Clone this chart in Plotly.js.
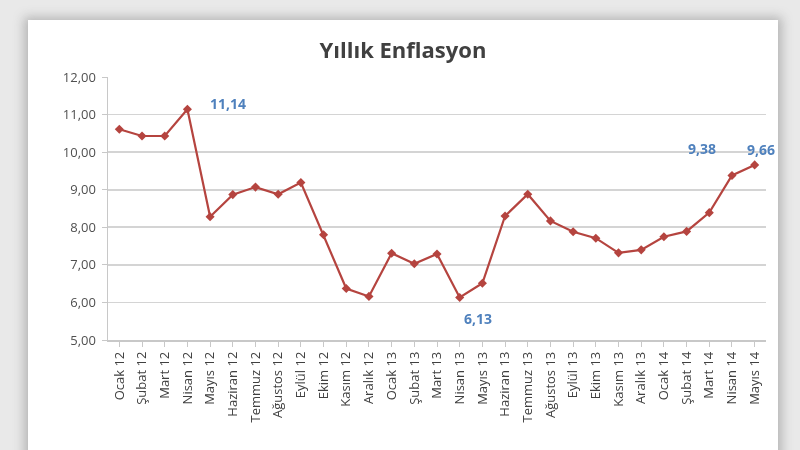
<!DOCTYPE html>
<html>
<head>
<meta charset="utf-8">
<script src="https://cdn.plot.ly/plotly-3.0.1.min.js"></script>
<style>
  html, body { margin: 0; padding: 0; width: 800px; height: 450px; overflow: hidden; background: #e9e9e9; }
  #card { position: absolute; left: 28px; top: 21px; width: 750px; height: 440px; background: #ffffff;
          box-shadow: 0 0 10px 4px rgba(120,120,120,0.45); }
  #chart { position: absolute; left: 0; top: -1px; width: 750px; height: 430px; filter: blur(0.6px); }
</style>
</head>
<body>
<div id="card"><div id="chart"></div></div>
<script>
const categories = [
  "Ocak 12","Şubat 12","Mart 12","Nisan 12","Mayıs 12","Haziran 12","Temmuz 12","Ağustos 12","Eylül 12","Ekim 12","Kasım 12","Aralık 12",
  "Ocak 13","Şubat 13","Mart 13","Nisan 13","Mayıs 13","Haziran 13","Temmuz 13","Ağustos 13","Eylül 13","Ekim 13","Kasım 13","Aralık 13",
  "Ocak 14","Şubat 14","Mart 14","Nisan 14","Mayıs 14"
];
const inflation = [
  10.61, 10.43, 10.43, 11.14, 8.28, 8.87, 9.07, 8.88, 9.19, 7.80, 6.37, 6.16,
  7.31, 7.03, 7.29, 6.13, 6.51, 8.30, 8.88, 8.17, 7.88, 7.71, 7.32, 7.40,
  7.75, 7.89, 8.39, 9.38, 9.66
];
const labelled = [
  {cat: "Nisan 12", val: 11.14, text: "11,14", dx: 41, dy: 6},
  {cat: "Nisan 13", val: 6.13, text: "6,13", dx: 18, dy: -21},
  {cat: "Nisan 14", val: 9.38, text: "9,38", dx: -30, dy: 27},
  {cat: "Mayıs 14", val: 9.66, text: "9,66", dx: 6, dy: 15}
];

const FONT = "'Open Sans', 'Noto Sans', sans-serif";

const trace = {
  type: "scatter", mode: "lines+markers",
  x: categories, y: inflation,
  line: {color: "#b5443f", width: 2.2},
  marker: {symbol: "diamond", size: 7, color: "#b5443f"},
  hoverinfo: "x+y"
};

const layout = {
  width: 750, height: 430,
  paper_bgcolor: "#ffffff", plot_bgcolor: "#ffffff",
  separators: ",.",
  margin: {l: 80, r: 12, t: 57, b: 110},
  showlegend: false,
  title: {text: "Yıllık Enflasyon", x: 0.5, xanchor: "center", y: 0.93, yanchor: "middle",
          font: {family: FONT, size: 22, color: "#404040", weight: "bold"}},
  font: {family: FONT, color: "#404040"},
  xaxis: {
    type: "category", range: [-0.5, 28.5],
    tickangle: -90, tickfont: {size: 13, color: "#404040"},
    showgrid: false, showline: true, linecolor: "#c8c8c8", linewidth: 1.5,
    ticks: "outside", ticklen: 5, tickcolor: "#c8c8c8",
    zeroline: false
  },
  yaxis: {
    range: [5, 12], dtick: 1, tickformat: ".2f",
    tickfont: {size: 13, color: "#505050"},
    ticklabelstandoff: 3,
    showgrid: true, gridcolor: "#d4d4d4", gridwidth: 1.8,
    showline: true, linecolor: "#c8c8c8", linewidth: 1.5,
    ticks: "outside", ticklen: 5, tickcolor: "#c8c8c8",
    zeroline: false
  },
  annotations: labelled.map(a => ({
    x: a.cat, y: a.val, xref: "x", yref: "y", text: a.text, showarrow: false,
    xshift: a.dx, yshift: a.dy,
    font: {size: 14, color: "#4f81bd", family: FONT, weight: "bold"}
  }))
};

Plotly.newPlot("chart", [trace], layout, {displayModeBar: false, staticPlot: true});
</script>
</body>
</html>
